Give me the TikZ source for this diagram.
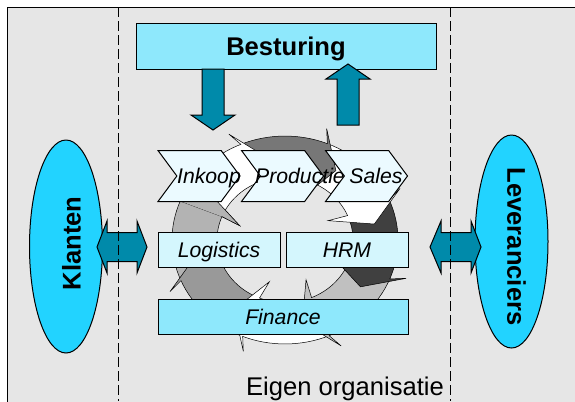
\documentclass[tikz,border=0pt]{standalone}
\usepackage{fontspec}
\setmainfont{Liberation Sans}
\usetikzlibrary{positioning,shapes.geometric,shapes.symbols}

\definecolor{achtergrond}{HTML}{E6E6E6}
\definecolor{bestuurblauw}{HTML}{8EE8FC}
\definecolor{steunblauw}{HTML}{D4F6FD}
\definecolor{chevwit}{HTML}{EBFAFF}
\definecolor{klantblauw}{HTML}{22D3FF}
\definecolor{pijlblauw}{HTML}{008AAA}
\definecolor{ring2}{HTML}{777777}
\definecolor{ring4}{HTML}{404040}
\definecolor{ring5}{HTML}{C0C0C0}
\definecolor{ring7}{HTML}{999999}
\definecolor{ring8}{HTML}{B3B3B3}

\newcommand\grootfont{\fontsize{25.6bp}{30bp}\selectfont}
\newcommand\procfont{\fontsize{21.2bp}{25bp}\selectfont\itshape}

\begin{document}
\begin{tikzpicture}[x = 1bp, y = -1bp,
        blok/.style = {draw, line width = 1bp, rectangle, inner sep = 0pt},
        klein/.style = {font = \procfont, text height = 15.2bp, text depth = 0pt},
        groot/.style = {font = \grootfont\bfseries, text height = 18.3bp, text depth = 0pt},
        proces/.style = {draw, line width = 1bp, fill = chevwit, signal, signal from = west, signal to = east,
                         signal pointer angle = 107, minimum width = 82bp, minimum height = 51bp,
                         inner sep = 0pt, klein},
        steun/.style = {blok, fill = steunblauw, minimum width = 122bp, minimum height = 35bp, klein},
        partij/.style = {ellipse, draw, line width = 1bp, fill = klantblauw, minimum width = 73bp, minimum height = 213bp},
        blokpijl/.style = {draw, line width = 1bp, fill = pijlblauw, line join = miter},
        grens/.style = {line width = 1bp, dash pattern = on 10bp off 4bp}]
    \useasboundingbox (0,0) rectangle (575,401);
    \draw[fill = achtergrond, line width = 1bp] (7,7) rectangle (590,420);

    % kringloop op de achtergrond
    \begin{scope}[shift = {(285,240)}, y = 1bp, yscale = 0.92, line width = 0.5bp]
        \foreach \h/\kleur in {-202/ring8, -157/ring7, -112/white, -67/ring5, -22/ring4, 23/white, 68/ring2, 113/white}
            \filldraw[fill = \kleur] (\h+45:113) arc [start angle = \h+45, end angle = \h, radius = 113]
                -- (\h+3:128) -- (\h-12:91) -- (\h+3:48) -- (\h:68)
                arc [start angle = \h, end angle = \h+45, radius = 68] -- cycle;
        \fill[ring8] (-202:113) -- (-199:128) -- (-214:91) -- (-199:48) -- (-202:68) -- cycle;
        \draw (-202:113) -- (-199:128) -- (-214:91) -- (-199:48) -- (-202:68);
    \end{scope}

    \node [proces] (I) at (199,176) {\makebox[0pt]{\hspace{20bp}Inkoop}};
    \node [proces] (P) at (282.5,176) {\makebox[0pt]{\hspace{35bp}Productie}};
    \node [proces] (S) at (366.5,176) {\makebox[0pt]{\hspace{19bp}Sales}};

    \node [steun] (L) at (219,249.5) {Logistics};
    \node [steun] (H) [right = 5bp of L] {HRM};
    \node [blok, fill = bestuurblauw, minimum width = 250bp, minimum height = 35bp, klein] (F)
        [below right = 31bp and 0bp of L.south west] {Finance};

    \node [blok, fill = bestuurblauw, minimum width = 300bp, minimum height = 46bp, groot]
        (B) at (286,46) {Besturing};

    \draw[blokpijl] (202,69) -- (224,69) -- (224,115) -- (235,115) -- (213,130) -- (191,115) -- (202,115) -- cycle;
    \draw[blokpijl] (337,125) -- (359,125) -- (359,79) -- (370,79) -- (348,64) -- (326,79) -- (337,79) -- cycle;

    \node [partij] (K) at (66,246.5) {};
    \node [partij] (V) at (511.5,241.5) {};
    \node [rotate = 90, groot] (Kt) at (71.5,243.5) {Klanten};
    \node [rotate = -90, groot] (Vt) at (516.5,246.5) {Leveranciers};

    \draw[blokpijl] (97,247) -- (107,221) -- (107,232.5) -- (137,232.5) -- (137,221) -- (147,247)
        -- (137,273) -- (137,261.5) -- (107,261.5) -- (107,273) -- cycle;
    \draw[blokpijl] (430,247) -- (441,221) -- (441,232.5) -- (471,232.5) -- (471,221) -- (481,247)
        -- (471,273) -- (471,261.5) -- (441,261.5) -- (441,273) -- cycle;

    \draw[grens] (118,7) -- (118,401);
    \draw[grens] (450,7) -- (450,401);

    \node [font = \grootfont, anchor = base] (E) at (345,395) {Eigen organisatie};
\end{tikzpicture}
\end{document}
